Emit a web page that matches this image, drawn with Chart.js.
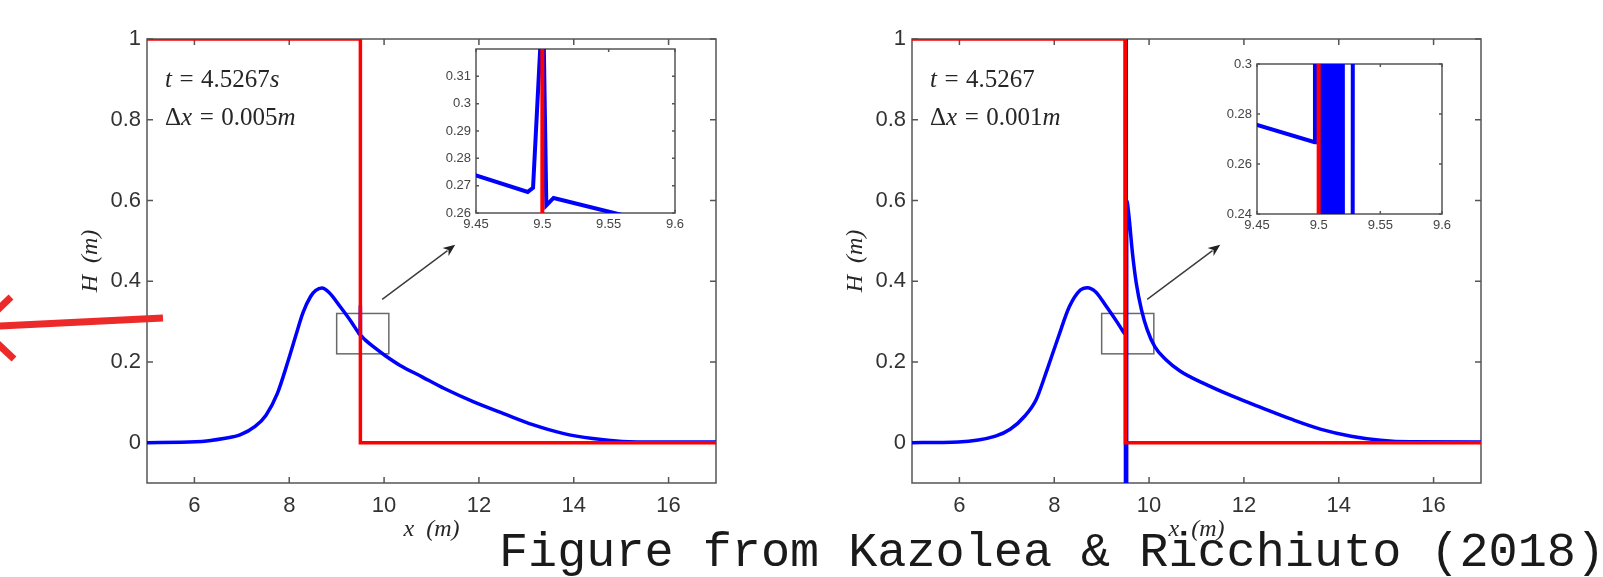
<!DOCTYPE html>
<html><head><meta charset="utf-8">
<script src="https://cdn.jsdelivr.net/npm/chart.js@4/dist/chart.umd.min.js"></script>
<style>
html,body{margin:0;padding:0;background:#fff;width:1603px;height:577px;overflow:hidden;position:relative}
canvas{position:absolute}
#caption{position:absolute;left:499px;top:530px;font-family:'Liberation Mono',monospace;font-size:48.5px;line-height:48.5px;color:#1a1a1a;white-space:pre}
</style></head><body>
<canvas id="mainL" width="760" height="577" style="left:0;top:0"></canvas>
<canvas id="mainR" width="843" height="577" style="left:760px;top:0"></canvas>
<canvas id="insetL" width="270" height="215" style="left:420px;top:30px"></canvas>
<canvas id="insetR" width="260" height="200" style="left:1200px;top:45px"></canvas>
<div id="caption">Figure from Kazolea &amp; Ricchiuto (2018)</div>
<script>
// ---------- data ----------
// left panel (dx = 0.005 m)
const leftX = [5, 6.03, 6.65, 6.96, 7.28, 7.51, 7.75, 7.98, 8.14, 8.29, 8.45, 8.56, 8.69, 8.84, 9.08, 9.31,
  9.45, 9.489, 9.493, 9.5005, 9.503, 9.5085, 9.554, 9.6,
  9.78, 10.02, 10.33, 10.8, 11.27, 11.89, 12.52, 13.15, 13.77, 14.4, 15.02, 15.8, 17];
const leftH = [0, 0.002, 0.011, 0.019, 0.04, 0.068, 0.122, 0.204, 0.266, 0.322, 0.362, 0.377, 0.383, 0.372, 0.336, 0.299,
  0.2738, 0.2677, 0.2692, 0.34, 0.2628, 0.2655, 0.26, 0.2545,
  0.237, 0.216, 0.192, 0.163, 0.134, 0.101, 0.072, 0.044, 0.023, 0.01, 0.003, 0.0015, 0.0015];
// right panel (dx = 0.001 m)
const rightX = [5, 5.98, 6.76, 7.07, 7.38, 7.62, 7.85, 8.09, 8.32, 8.55, 8.7, 8.87, 9.1, 9.34,
  9.45, 9.4968, 9.497, 9.5012,
  9.502, 9.503, 9.504, 9.505, 9.506, 9.507, 9.508, 9.509, 9.510, 9.511, 9.512, 9.513, 9.514, 9.515, 9.516, 9.517, 9.518, 9.519, 9.520,
  9.527, 9.528, 9.57, 9.65, 9.73, 9.84, 9.96, 10.12, 10.35, 10.66, 11.13, 11.76, 12.38, 13.0, 13.63, 14.26, 14.88, 15.5, 17];
const rightH = [0, 0.0016, 0.016, 0.033, 0.066, 0.107, 0.181, 0.263, 0.337, 0.378, 0.384, 0.374, 0.337, 0.296,
  0.2756, 0.2687, 1.2, 1.2,
  -0.3, 1.2, -0.3, 1.2, -0.3, 1.2, -0.3, 1.2, -0.3, 1.2, -0.3, 1.2, -0.3, 1.2, -0.3, 1.2, -0.3, 1.2, -0.3,
  -0.3, 0.6, 0.567, 0.469, 0.395, 0.329, 0.28, 0.238, 0.206, 0.177, 0.148, 0.115, 0.086, 0.058, 0.033, 0.016, 0.006, 0.002, 0.0015];
// red step (both panels)
const stepX = [5, 9.5, 9.5, 17];
const stepH = [1, 1, 0, 0];
// ticks
const mainXTicks = [6, 8, 10, 12, 14, 16];
const mainYTicks = [0, 0.2, 0.4, 0.6, 0.8, 1];
const insetXTicks = [9.45, 9.5, 9.55, 9.6];
const insetLYTicks = [0.26, 0.27, 0.28, 0.29, 0.3, 0.31];
const insetRYTicks = [0.24, 0.26, 0.28, 0.3];
// annotation texts
const textLeft = [[['t', 1], ['=', 0], ['4.5267', 0], ['s', 1]], [['Δ', 0], ['x', 1], ['=', 0], ['0.005', 0], ['m', 1]]];
const textRight = [[['t', 1], ['=', 0], ['4.5267', 0]], [['Δ', 0], ['x', 1], ['=', 0], ['0.001', 0], ['m', 1]]];

// ---------- helpers ----------
const pts = (xs, ys) => xs.map((x, i) => ({x: x, y: ys[i]}));
const fmt = v => String(Number(Number(v).toFixed(3)));
const BLUE = '#0000ff', RED = '#ff0000';

const framePlugin = {
  id: 'frame',
  beforeDatasetsDraw(chart, args, o) {
    const ctx = chart.ctx, a = chart.chartArea, X = chart.scales.x, Y = chart.scales.y;
    ctx.save();
    if (o.fill) { ctx.fillStyle = '#fff'; ctx.fillRect(a.left, a.top, a.right - a.left, a.bottom - a.top); }
    ctx.strokeStyle = o.color; ctx.lineWidth = o.width;
    ctx.strokeRect(a.left, a.top, a.right - a.left, a.bottom - a.top);
    ctx.beginPath();
    X.ticks.forEach(t => { const p = X.getPixelForValue(t.value);
      ctx.moveTo(p, a.bottom); ctx.lineTo(p, a.bottom - o.len); ctx.moveTo(p, a.top); ctx.lineTo(p, a.top + o.len); });
    Y.ticks.forEach(t => { const p = Y.getPixelForValue(t.value);
      ctx.moveTo(a.left, p); ctx.lineTo(a.left + o.len, p); ctx.moveTo(a.right, p); ctx.lineTo(a.right - o.len, p); });
    ctx.stroke();
    ctx.restore();
  }
};

const annotPlugin = {
  id: 'annot',
  beforeDatasetsDraw(chart, args, o) {
    if (!o.box) return;
    const ctx = chart.ctx, X = chart.scales.x, Y = chart.scales.y;
    ctx.save();
    ctx.strokeStyle = '#6a6a6a'; ctx.lineWidth = 1.5;
    const x0 = X.getPixelForValue(o.box.x0), x1 = X.getPixelForValue(o.box.x1);
    const y0 = Y.getPixelForValue(o.box.y0), y1 = Y.getPixelForValue(o.box.y1);
    ctx.strokeRect(x0, y1, x1 - x0, y0 - y1);
    ctx.restore();
  },
  afterDatasetsDraw(chart, args, o) {
    const ctx = chart.ctx, X = chart.scales.x, Y = chart.scales.y;
    ctx.save();
    if (o.arrow) {
      const ax0 = X.getPixelForValue(o.arrow.x0), ay0 = Y.getPixelForValue(o.arrow.y0);
      const ax1 = X.getPixelForValue(o.arrow.x1), ay1 = Y.getPixelForValue(o.arrow.y1);
      const ang = Math.atan2(ay1 - ay0, ax1 - ax0), hl = 12, hw = 5;
      ctx.strokeStyle = '#3a3a3a'; ctx.fillStyle = '#222'; ctx.lineWidth = 1.4;
      ctx.beginPath(); ctx.moveTo(ax0, ay0);
      ctx.lineTo(ax1 - hl * 0.8 * Math.cos(ang), ay1 - hl * 0.8 * Math.sin(ang)); ctx.stroke();
      ctx.beginPath(); ctx.moveTo(ax1, ay1);
      ctx.lineTo(ax1 - hl * Math.cos(ang) + hw * Math.sin(ang), ay1 - hl * Math.sin(ang) - hw * Math.cos(ang));
      ctx.lineTo(ax1 - hl * 0.7 * Math.cos(ang), ay1 - hl * 0.7 * Math.sin(ang));
      ctx.lineTo(ax1 - hl * Math.cos(ang) - hw * Math.sin(ang), ay1 - hl * Math.sin(ang) + hw * Math.cos(ang));
      ctx.closePath(); ctx.fill();
    }
    if (o.text) {
      ctx.fillStyle = '#262626'; ctx.textBaseline = 'alphabetic'; ctx.textAlign = 'left';
      o.text.lines.forEach((line, li) => {
        let px = X.getPixelForValue(o.text.x);
        const py = Y.getPixelForValue(o.text.y[li]);
        line.forEach(seg => {
          ctx.font = (seg[1] ? 'italic ' : '') + o.text.size + 'px "Liberation Serif", serif';
          const isEq = seg[0] === '=';
          if (isEq) px += o.text.size * 0.3;
          ctx.fillText(seg[0], px, py);
          px += ctx.measureText(seg[0]).width + (isEq ? o.text.size * 0.3 : 0);
        });
      });
    }
    ctx.restore();
  },
  afterDraw(chart, args, o) {
    if (!o.redArrow) return;
    const ctx = chart.ctx;
    ctx.save();
    ctx.strokeStyle = '#ec2a2a'; ctx.lineWidth = 7; ctx.lineCap = 'butt';
    ctx.beginPath();
    ctx.moveTo(163, 318); ctx.lineTo(-20, 327);
    ctx.moveTo(11, 297); ctx.lineTo(-20, 327); ctx.lineTo(14, 359);
    ctx.stroke();
    ctx.restore();
  }
};

const AX_FONT = "'Liberation Serif', serif";
function buildChart(id, c) {
  return new Chart(document.getElementById(id), {
    type: 'line',
    data: { datasets: [
      { data: pts(stepX, stepH), borderColor: RED, borderWidth: c.lw, pointRadius: 0, tension: 0, fill: false, clip: c.clip },
      { data: c.blue, borderColor: BLUE, borderWidth: c.lw, pointRadius: 0, fill: false, tension: 0,
        cubicInterpolationMode: c.smooth ? 'monotone' : 'default', clip: c.clip }
    ]},
    options: {
      responsive: false, animation: false, events: [],
      layout: { padding: c.pad },
      plugins: { legend: { display: false }, tooltip: { enabled: false },
        frame: c.frame, annot: c.annot || {} },
      scales: {
        x: { type: 'linear', position: 'bottom', min: c.xmin, max: c.xmax,
          afterBuildTicks: s => { s.ticks = c.xTicks.map(v => ({ value: v })); },
          afterFit: s => { s.height = c.xh; },
          grid: { display: false, drawTicks: false }, border: { display: false },
          ticks: { padding: c.xpad, maxRotation: 0, autoSkip: false, color: c.tcolor,
            font: { family: "'Liberation Sans', Arial, sans-serif", size: c.fs }, callback: v => fmt(v) },
          title: c.xTitle ? { display: true, text: 'x  (m)', color: '#262626', padding: { top: 0, bottom: c.xTitlePad },
            font: { family: AX_FONT, style: 'italic', size: 24 } } : { display: false } },
        y: { type: 'linear', position: 'left', min: c.ymin, max: c.ymax,
          afterBuildTicks: s => { s.ticks = c.yTicks.map(v => ({ value: v })); },
          afterFit: s => { s.width = c.yw; },
          grid: { display: false, drawTicks: false }, border: { display: false },
          ticks: { padding: c.ypad, color: c.tcolor, autoSkip: false,
            font: { family: "'Liberation Sans', Arial, sans-serif", size: c.fs }, callback: v => fmt(v) },
          title: c.yTitle ? { display: true, text: 'H  (m)', color: '#262626', padding: { top: c.yTitlePad, bottom: 0 },
            font: { family: AX_FONT, style: 'italic', size: 24 } } : { display: false } }
      }
    },
    plugins: [framePlugin, annotPlugin]
  });
}

const zoomBox = { x0: 9.0, x1: 10.1, y0: 0.22, y1: 0.32 };
const zoomArrow = { x0: 9.96, y0: 0.355, x1: 11.5, y1: 0.49 };

buildChart('mainL', {
  blue: pts(leftX, leftH), lw: 3.5, smooth: true, clip: undefined,
  xmin: 5, xmax: 17, ymin: -0.1, ymax: 1, xTicks: mainXTicks, yTicks: mainYTicks,
  pad: { left: 0, top: 39, right: 44, bottom: 0 }, xh: 94, yw: 147, xpad: 10, ypad: 6, fs: 22, tcolor: '#333',
  xTitle: true, yTitle: true, xTitlePad: 33, yTitlePad: 76,
  frame: { color: '#555', width: 1.5, len: 6 },
  annot: { box: zoomBox, arrow: zoomArrow, redArrow: true,
    text: { x: 5.38, y: [0.88, 0.788], size: 25, lines: textLeft } }
});
buildChart('mainR', {
  blue: pts(rightX, rightH), lw: 3.5, smooth: true, clip: undefined,
  xmin: 5, xmax: 17, ymin: -0.1, ymax: 1, xTicks: mainXTicks, yTicks: mainYTicks,
  pad: { left: 0, top: 39, right: 122, bottom: 0 }, xh: 94, yw: 152, xpad: 10, ypad: 6, fs: 22, tcolor: '#333',
  xTitle: true, yTitle: true, xTitlePad: 33, yTitlePad: 81,
  frame: { color: '#555', width: 1.5, len: 6 },
  annot: { box: zoomBox, arrow: zoomArrow,
    text: { x: 5.38, y: [0.88, 0.788], size: 25, lines: textRight } }
});
buildChart('insetL', {
  blue: pts(leftX, leftH), lw: 4, smooth: false, clip: 0,
  xmin: 9.45, xmax: 9.6, ymin: 0.26, ymax: 0.32, xTicks: insetXTicks, yTicks: insetLYTicks,
  pad: { left: 0, top: 19, right: 15, bottom: 0 }, xh: 32, yw: 56, xpad: 4, ypad: 5, fs: 13, tcolor: '#444',
  frame: { color: '#555', width: 1.5, len: 3, fill: true }
});
buildChart('insetR', {
  blue: pts(rightX, rightH), lw: 4, smooth: false, clip: 0,
  xmin: 9.45, xmax: 9.6, ymin: 0.24, ymax: 0.3, xTicks: insetXTicks, yTicks: insetRYTicks,
  pad: { left: 0, top: 19, right: 18, bottom: 0 }, xh: 31, yw: 57, xpad: 4, ypad: 5, fs: 13, tcolor: '#444',
  frame: { color: '#555', width: 1.5, len: 3, fill: true }
});
</script>
</body></html>
